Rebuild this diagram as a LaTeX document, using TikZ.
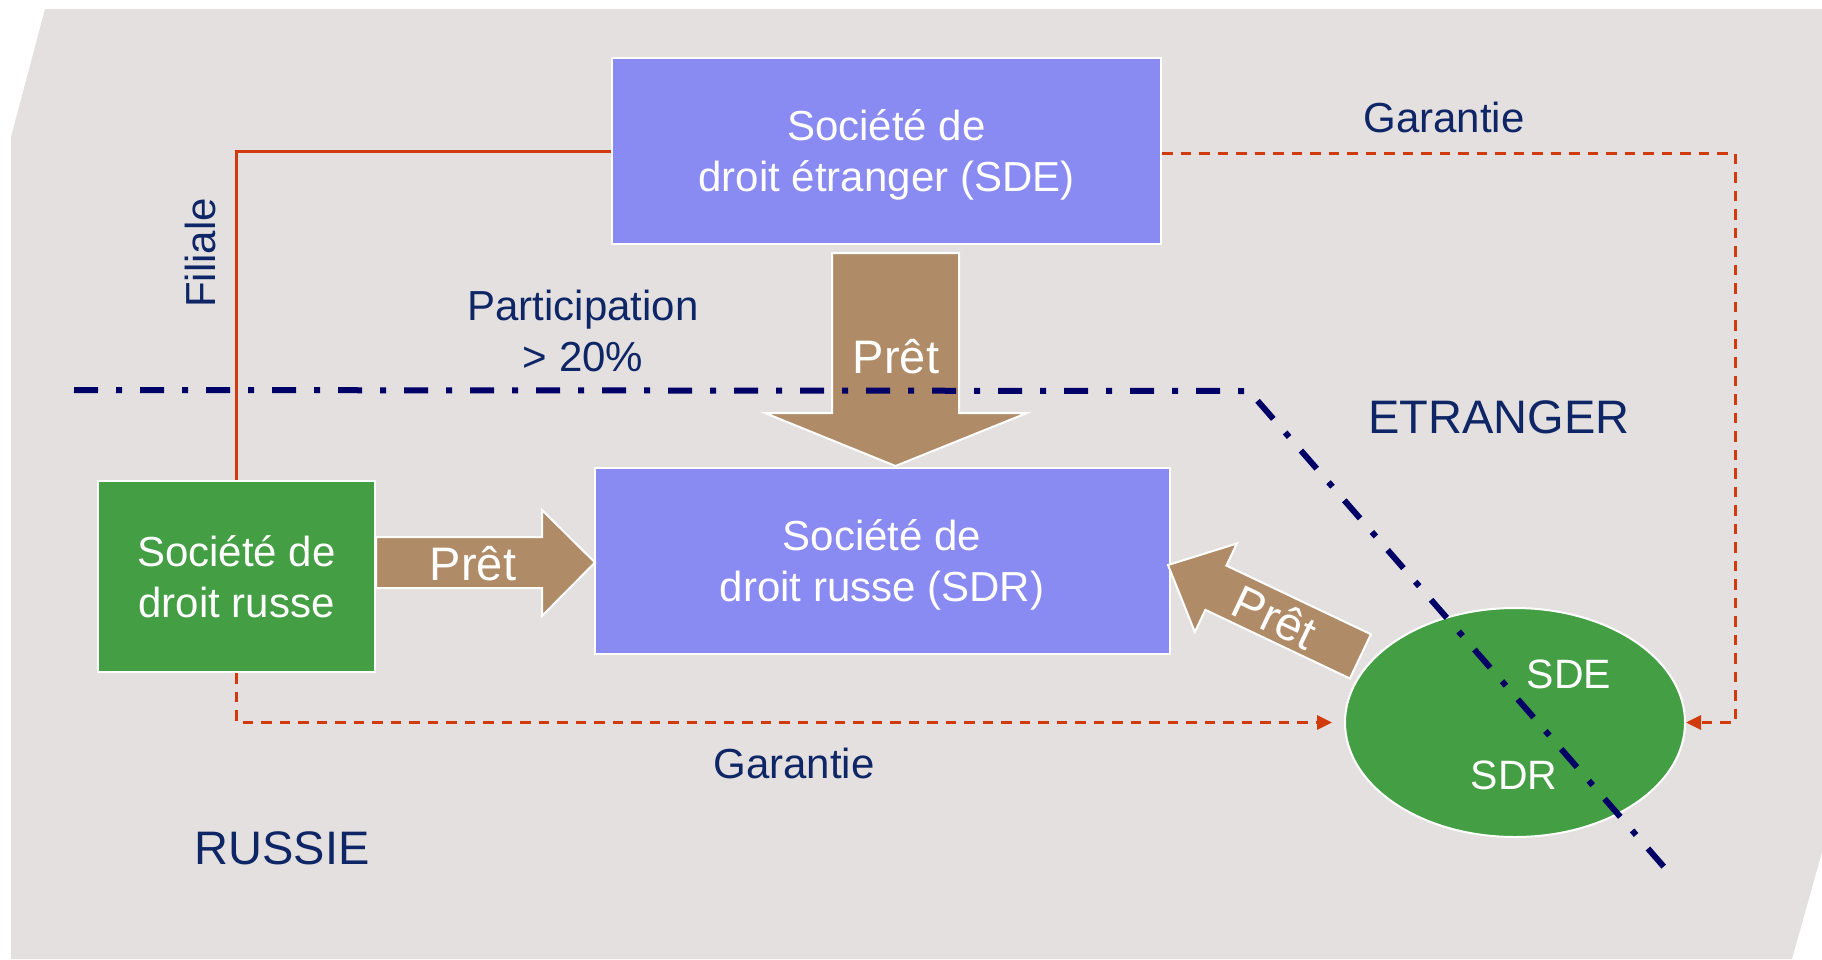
\documentclass[tikz,border=0pt]{standalone}
\usepackage{fontspec}
\setmainfont{Liberation Sans}
\usetikzlibrary{arrows.meta,shapes.geometric}

\definecolor{panel}{HTML}{E4E0E0}
\definecolor{boxblue}{HTML}{8A8AF3}
\definecolor{boxgreen}{HTML}{449E44}
\definecolor{loanbrown}{HTML}{B08B68}
\definecolor{linkred}{HTML}{D03A0C}
\definecolor{labelnavy}{HTML}{0E2566}
\definecolor{bordernavy}{HTML}{000066}

\begin{document}
\begin{tikzpicture}[x=1pt,y=-1pt,
  company/.style={draw=white, line width=2pt, inner sep=0pt, align=center,
    text=white, font=\fontsize{42}{51}\selectfont, text depth=0pt},
  label/.style={text=labelnavy, inner sep=0pt, font=\fontsize{42}{51}\selectfont},
  biglabel/.style={text=labelnavy, inner sep=0pt, font=\fontsize{47}{56}\selectfont},
  loan/.style={fill=loanbrown, draw=white, line width=2pt, line join=miter},
  loantext/.style={text=white, inner sep=0pt, font=\fontsize{47}{56}\selectfont},
  owns/.style={draw=linkred, line width=3pt},
  guarantee/.style={draw=linkred, line width=3pt, dash pattern=on 10.5pt off 8pt,
    -{Triangle[length=15pt,width=14pt]}},
  frontier/.style={draw=bordernavy, line width=6pt, dash pattern=on 24pt off 18pt on 6pt off 18pt}
]
\useasboundingbox (0,0) rectangle (1822,959);

% panel
\fill[panel] (45,9) -- (1822,9) -- (1822,852) -- (1792,959) -- (11,959) -- (11,137) -- cycle;

% companies
\node[company, fill=boxblue, minimum width=549pt, minimum height=186pt]
  (sde) at (886.5,151) {Société de\\droit étranger (SDE)};
\node[company, fill=boxblue, minimum width=575pt, minimum height=186pt]
  (sdr) at (882,561) {Société de\\droit russe (SDR)};
\node[company, fill=boxgreen, minimum width=277pt, minimum height=191pt]
  (rus) at (236.5,576.5) {Société de\\droit russe};
\node[ellipse, draw=white, line width=2pt, fill=boxgreen, inner sep=0pt,
  minimum width=340pt, minimum height=229pt] (mix) at (1515,722.5) {};
\node[text=white, inner sep=0pt, font=\fontsize{41}{49}\selectfont] (mixsde) at (1569,674) {SDE};
\node[text=white, inner sep=0pt, font=\fontsize{41}{49}\selectfont] (mixsdr) at (1514,775) {SDR};

% subsidiary link and guarantees
\coordinate (gcorner) at (1735,153);
\draw[owns] (sde.west) -| (rus.north);
\draw[guarantee] (sde.east |- gcorner) -- (gcorner) |- (mix.east);
\draw[guarantee, shorten >=12pt] (rus.south) |- (mix.west);

% loans
\draw[loan] (832,253) -- (959,253) -- (959,413) -- (1027,413) -- (895.5,466)
  -- (765,413) -- (832,413) -- cycle;
\draw[loan] (376,537) -- (542,537) -- (542,510) -- (595,562.5) -- (542,616)
  -- (542,588) -- (376,588) -- cycle;
\begin{scope}[shift={(1168,565)}, rotate=154.6]
  \draw[loan] (0,0) -- (-53,49) -- (-53,24.5) -- (-213,24.5) -- (-213,-24.5)
    -- (-53,-24.5) -- (-53,-49) -- cycle;
\end{scope}
\node[loantext] (loan1) at (896,357) {Prêt};
\node[loantext] (loan2) at (473,564) {Prêt};
\node[loantext, rotate=-25.4] (loan3) at (1275,617) {Prêt};

% border between the two jurisdictions
\coordinate (fstart) at (74,390);
\coordinate (fbend) at (1249,391);
\coordinate (fend) at (1671,875);
\draw[frontier] (fstart) -- (fbend) -- (fend);

% labels
\node[label] (gar1) at (1444,117) {Garantie};
\node[label] (gar2) at (794,763) {Garantie};
\node[label, rotate=90] (fil) at (200,253) {Filiale};
\node[label, align=center] (part) at (583,331) {Participation\\> 20\%};
\node[biglabel] (etr) at (1499,417) {ETRANGER};
\node[biglabel] (russie) at (282,848) {RUSSIE};
\end{tikzpicture}
\end{document}
